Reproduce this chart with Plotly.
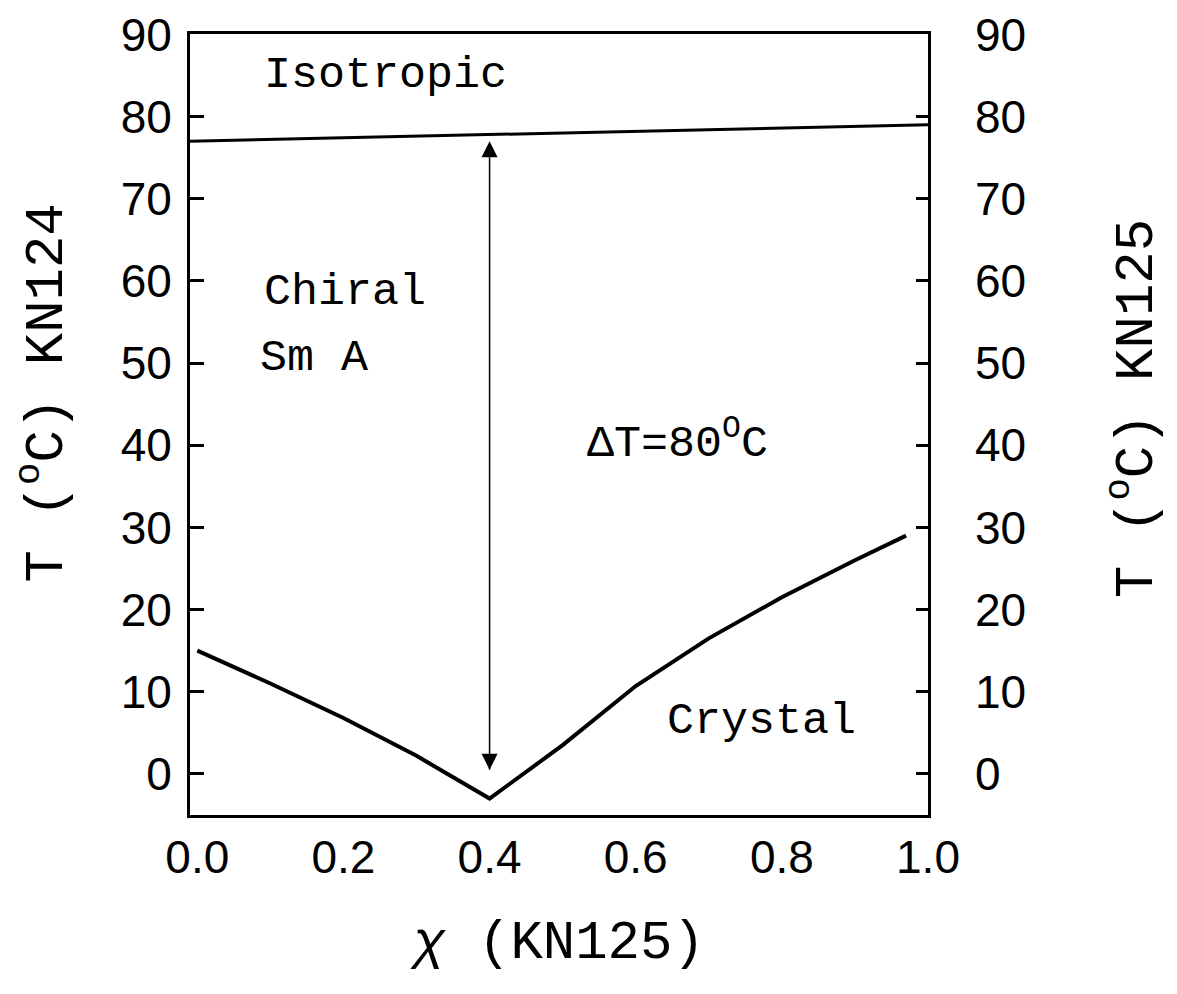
import plotly.graph_objects as go

# Phase diagram of the KN124 / KN125 binary mixture
chi_crystal = [0.0, 0.1, 0.2, 0.3, 0.40, 0.5, 0.6, 0.7, 0.8, 0.9, 0.97]
T_crystal = [15.0, 11.0, 6.8, 2.2, -3.0, 3.5, 10.7, 16.5, 21.5, 26.0, 29.0]

chi_iso = [-0.01, 1.0]
T_iso = [77.0, 79.0]

chi_gap = [0.40, 0.40]
T_gap = [0.5, 77.0]

y_ticks = [0, 10, 20, 30, 40, 50, 60, 70, 80, 90]
x_ticks = [0.0, 0.2, 0.4, 0.6, 0.8, 1.0]

X_RANGE = [-0.01, 1.0]
Y_RANGE = [-5, 90.05]

MONO = "Liberation Mono"
SANS = "Liberation Sans"
INK = "black"

fig = go.Figure()

fig.add_trace(go.Scatter(x=chi_crystal, y=T_crystal, mode="lines",
                         line=dict(color=INK, width=4), showlegend=False))
fig.add_trace(go.Scatter(x=chi_iso, y=T_iso, mode="lines",
                         line=dict(color=INK, width=3), showlegend=False))

# double-headed arrow spanning the Sm A range
fig.add_trace(go.Scatter(x=chi_gap, y=T_gap, mode="lines+markers",
                         line=dict(color=INK, width=1.5),
                         marker=dict(symbol=["arrow-down", "arrow-up"], size=16,
                                     color=INK, line=dict(width=0)),
                         showlegend=False, hoverinfo="skip"))

# invisible trace to activate the right-hand temperature axis
fig.add_trace(go.Scatter(x=[chi_iso[0]], y=[T_iso[0]], yaxis="y2", mode="lines",
                         line=dict(width=0), showlegend=False, hoverinfo="skip"))

labels = [
    ("Isotropic", 0.088, 85.0),
    ("Chiral", 0.088, 58.6),
    ("Sm A", 0.083, 50.6),
    ("\u0394T=80<sup>O</sup>C", 0.53, 40.6),
    ("Crystal", 0.64, 6.4),
]
for txt, xv, yv in labels:
    fig.add_annotation(x=xv, y=yv, xref="x", yref="y", text=txt, showarrow=False,
                       xanchor="left", yanchor="middle",
                       font=dict(family=MONO, size=45, color=INK))

title_font = dict(family=MONO, size=54, color=INK)
tick_font = dict(family=SANS, size=46, color=INK)

# temperature axis titles on both sides
fig.add_annotation(x=-0.199, y=0.54, xref="paper", yref="paper",
                   text="T (<sup>o</sup>C) KN124", textangle=-90, showarrow=False,
                   xanchor="center", yanchor="middle", font=title_font)
fig.add_annotation(x=1.278, y=0.52, xref="paper", yref="paper",
                   text="T (<sup>o</sup>C) KN125", textangle=-90, showarrow=False,
                   xanchor="center", yanchor="middle", font=title_font)

fig.update_layout(
    width=1177, height=994,
    margin=dict(l=190, r=249, t=34, b=179),
    paper_bgcolor="white", plot_bgcolor="white",
    showlegend=False,
    xaxis=dict(range=X_RANGE, tickvals=x_ticks, ticktext=[f"{v:.1f}" for v in x_ticks],
               ticks="", showgrid=False, zeroline=False, automargin=False,
               showline=True, linecolor=INK, linewidth=3, mirror=True,
               tickfont=tick_font, ticklabelstandoff=0,
               title=dict(text="<i>\u03c7</i> (KN125)", font=title_font, standoff=38)),
    yaxis=dict(range=Y_RANGE, tickvals=y_ticks, ticks="inside", ticklen=14,
               tickwidth=2.5, tickcolor=INK, showgrid=False, zeroline=False,
               automargin=False,
               showline=True, linecolor=INK, linewidth=3, mirror=True,
               tickfont=tick_font, ticklabelstandoff=6),
    yaxis2=dict(range=Y_RANGE, tickvals=y_ticks, ticks="inside", ticklen=12,
                tickwidth=2.5, tickcolor=INK, overlaying="y", side="right",
                showgrid=False, zeroline=False, showline=False, automargin=False,
                tickfont=tick_font, ticklabelstandoff=46),
)

fig.write_html("out.html")
